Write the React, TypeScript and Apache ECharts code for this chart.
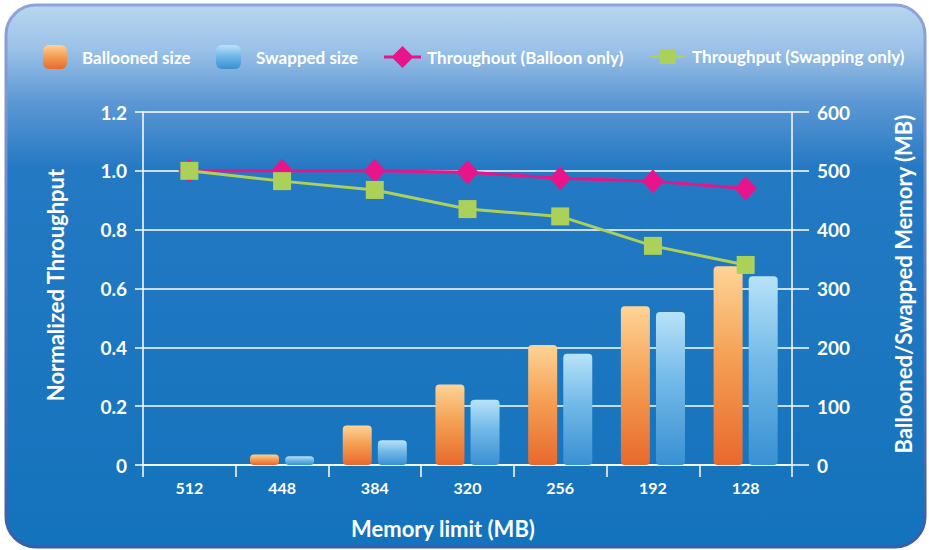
import React, { useEffect, useRef } from "react";
import * as echarts from "echarts";

const categories = ["512", "448", "384", "320", "256", "192", "128"];
const balloonedSize = [0, 18, 67, 137, 204, 270, 338];
const swappedSize = [0, 15, 42, 111, 189, 260, 321];
const throughputBalloon = [1.0, 1.0, 1.0, 0.995, 0.975, 0.965, 0.94];
const throughputSwap = [1.0, 0.965, 0.935, 0.87, 0.845, 0.745, 0.68];

const FONT = 'Lato, "Open Sans", "Noto Sans", sans-serif';

const orangeGrad = () =>
  new echarts.graphic.LinearGradient(0, 0, 0, 1, [
    { offset: 0, color: "#fed497" },
    { offset: 0.45, color: "#f5a155" },
    { offset: 1, color: "#e8692d" },
  ]);
const blueGrad = () =>
  new echarts.graphic.LinearGradient(0, 0, 0, 1, [
    { offset: 0, color: "#b8e3f8" },
    { offset: 0.45, color: "#72b9e8" },
    { offset: 1, color: "#3990d2" },
  ]);

const diamondIcon =
  "path://M0,9.5L9,9.5L18.5,0L28,9.5L37,9.5L37,12.5L28,12.5L18.5,22L9,12.5L0,12.5Z";
const squareIcon =
  "path://M0,6L9.5,6L9.5,0L25.5,0L25.5,6L35,6L35,9L25.5,9L25.5,15L9.5,15L9.5,9L0,9Z";

export default function App() {
  const ref = useRef<HTMLDivElement>(null);
  useEffect(() => {
    if (!ref.current) return;
    const chart = echarts.init(ref.current, null, { renderer: "svg" });
    const legendText = { color: "#ffffff", fontSize: 17, fontWeight: "bold" as const, fontFamily: FONT };
    const titleStyle = {
      fill: "#ffffff",
      fontSize: 22,
      fontWeight: "bold",
      fontFamily: FONT,
      align: "center",
      verticalAlign: "middle",
    };
    chart.setOption({
      animation: false,
      backgroundColor: "#ffffff",
      textStyle: { fontFamily: FONT },
      graphic: [
        {
          type: "rect",
          z: -10,
          silent: true,
          shape: { x: 6, y: 5, width: 919, height: 542, r: 30 },
          style: {
            fill: new echarts.graphic.LinearGradient(0, 0, 0, 1, [
              { offset: 0, color: "#b7d6f0" },
              { offset: 0.08, color: "#9cc2e8" },
              { offset: 0.18, color: "#5b97d4" },
              { offset: 0.3, color: "#2479c3" },
              { offset: 1, color: "#1373bc" },
            ]),
            stroke: new echarts.graphic.LinearGradient(0, 0, 0, 1, [
              { offset: 0, color: "#8ea3d8" },
              { offset: 1, color: "#3a5cab" },
            ]),
            lineWidth: 3,
          },
        },
        {
          type: "text",
          x: 55,
          y: 285,
          rotation: Math.PI / 2,
          style: { ...titleStyle, text: "Normalized Throughput" },
        },
        {
          type: "text",
          x: 903,
          y: 284,
          rotation: Math.PI / 2,
          style: { ...titleStyle, text: "Ballooned/Swapped Memory (MB)" },
        },
        {
          type: "text",
          x: 443,
          y: 528,
          style: { ...titleStyle, text: "Memory limit (MB)" },
        },
      ],
      legend: [
        {
          left: 38,
          top: 40,
          itemWidth: 24,
          itemHeight: 24,
          data: [{ name: "Ballooned size", icon: "roundRect" }],
          textStyle: { ...legendText, padding: [0, 0, 0, 10] },
        },
        {
          left: 211,
          top: 40,
          itemWidth: 25,
          itemHeight: 24,
          data: [{ name: "Swapped size", icon: "roundRect" }],
          textStyle: { ...legendText, padding: [0, 0, 0, 10] },
        },
        {
          left: 379,
          top: 41,
          itemWidth: 37,
          itemHeight: 22,
          data: [
            {
              name: "Throughout (Balloon only)",
              icon: diamondIcon,
              itemStyle: { color: "#e8158a", borderWidth: 0 },
            },
          ],
          textStyle: { ...legendText, padding: [0, 0, 0, 1] },
        },
        {
          left: 645,
          top: 43,
          itemWidth: 35,
          itemHeight: 15,
          data: [
            {
              name: "Throughput (Swapping only)",
              icon: squareIcon,
              itemStyle: { color: "#abd15a", borderWidth: 0 },
            },
          ],
          textStyle: { ...legendText, padding: [0, 0, 0, 2] },
        },
      ],
      grid: { left: 143, right: 137, top: 112, bottom: 85 },
      xAxis: {
        type: "category",
        data: categories,
        boundaryGap: true,
        axisLine: { show: true, lineStyle: { color: "#ffffff", width: 1.5 } },
        axisTick: { show: true, length: 12, lineStyle: { color: "#ffffff", width: 1.5 } },
        axisLabel: { color: "#ffffff", fontSize: 16, fontWeight: "bold", margin: 14, fontFamily: FONT },
      },
      yAxis: [
        {
          type: "value",
          min: 0,
          max: 1.2,
          interval: 0.2,
          position: "left",
          axisLine: { show: true, lineStyle: { color: "#ffffff", width: 1.5 } },
          axisTick: { show: true, length: 8, lineStyle: { color: "#ffffff", width: 1.5 } },
          splitLine: { show: true, lineStyle: { color: "#ffffff", width: 1.5 } },
          axisLabel: {
            color: "#ffffff",
            fontSize: 19,
            fontWeight: "bold",
            margin: 16,
            fontFamily: FONT,
            formatter: (v: number) => (v === 0 ? "0" : v.toFixed(1)),
          },
        },
        {
          type: "value",
          min: 0,
          max: 600,
          interval: 100,
          position: "right",
          axisLine: { show: true, lineStyle: { color: "#ffffff", width: 1.5 } },
          axisTick: { show: true, length: 17, lineStyle: { color: "#ffffff", width: 1.5 } },
          splitLine: { show: false },
          axisLabel: { color: "#ffffff", fontSize: 19, fontWeight: "bold", margin: 25, fontFamily: FONT },
        },
      ],
      series: [
        {
          name: "Ballooned size",
          type: "bar",
          yAxisIndex: 1,
          data: balloonedSize,
          barWidth: 29,
          barGap: "21%",
          itemStyle: { color: orangeGrad(), borderRadius: 4 },
          z: 2,
        },
        {
          name: "Swapped size",
          type: "bar",
          yAxisIndex: 1,
          data: swappedSize,
          barWidth: 29,
          itemStyle: { color: blueGrad(), borderRadius: 4 },
          z: 2,
        },
        {
          name: "Throughout (Balloon only)",
          type: "line",
          yAxisIndex: 0,
          data: throughputBalloon,
          symbol: "diamond",
          symbolSize: [22, 24],
          lineStyle: { color: "#e8158a", width: 3 },
          itemStyle: { color: "#e8158a" },
          z: 4,
        },
        {
          name: "Throughput (Swapping only)",
          type: "line",
          yAxisIndex: 0,
          data: throughputSwap,
          symbol: "rect",
          symbolSize: 18,
          lineStyle: { color: "#abd15a", width: 3 },
          itemStyle: { color: "#abd15a" },
          z: 5,
        },
      ],
    });
    return () => chart.dispose();
  }, []);
  return (
    <div
      ref={ref}
      style={{ position: "absolute", left: 0, top: 0, width: 929, height: 550 }}
    />
  );
}
